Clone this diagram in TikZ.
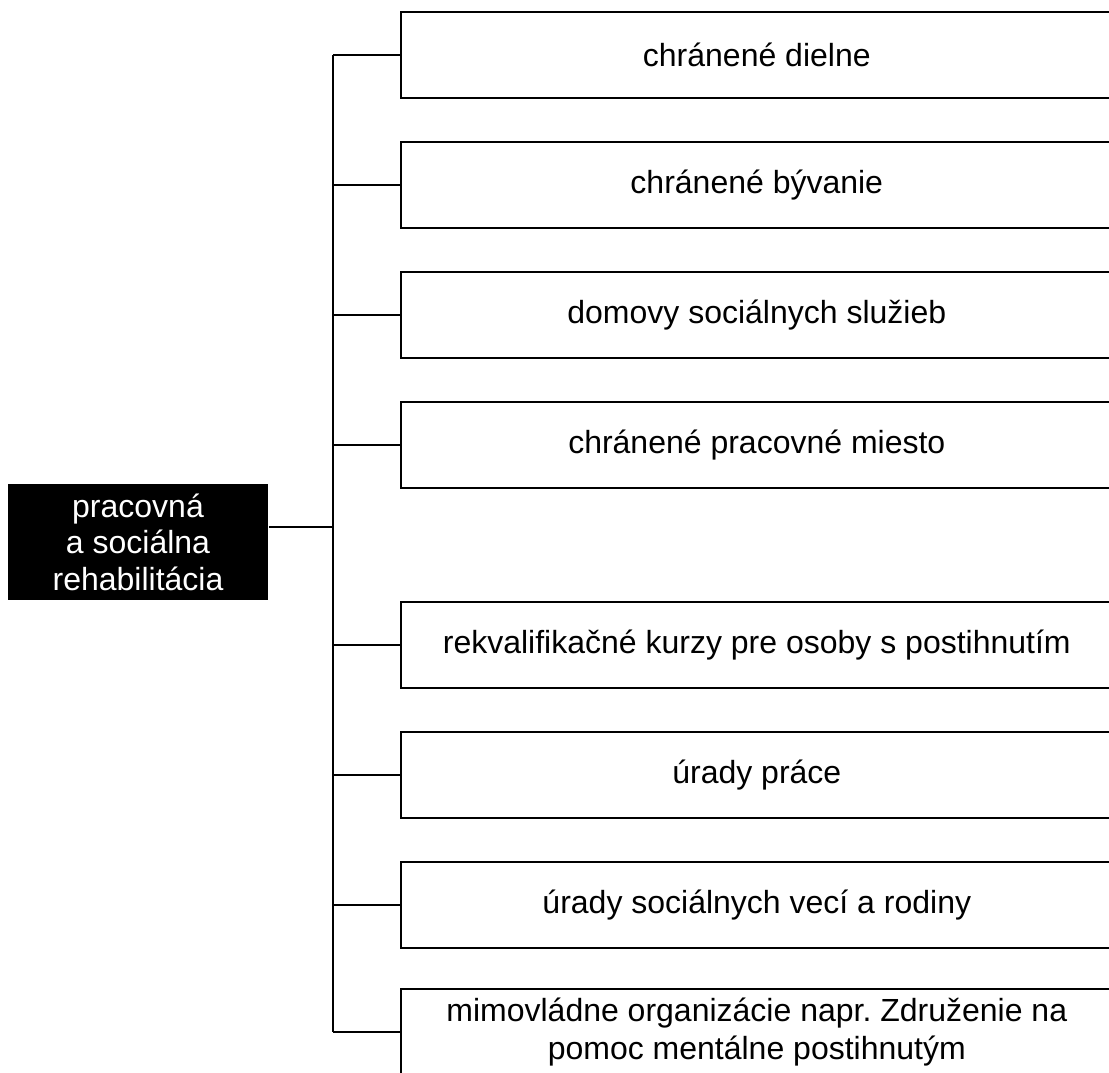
\documentclass[tikz,border=0pt]{standalone}
\usepackage{fontspec}
\setmainfont{Liberation Sans}
\frenchspacing
\begin{document}
\begin{tikzpicture}[x=1pt,y=-1pt,
  line width=1.6pt,
  item/.style={draw=black, line width=1.6pt, rectangle, minimum width=712pt,
    minimum height=86pt, anchor=north west, inner sep=0pt, align=center,
    font=\fontsize{32}{38}\selectfont},
  root/.style={fill=black, text=white, rectangle, minimum width=260pt,
    minimum height=116pt, inner sep=0pt, align=center,
    font=\fontsize{32}{36.5}\selectfont},
  link/.style={draw=black, line width=1.6pt}]
\useasboundingbox (0,0) rectangle (1109,1072);
\clip (0,0) rectangle (1109,1072);
\node[root] (r) at (138,542) {pracovná\\a sociálna\\rehabilitácia};
\node[item] (b1) at (400,11) {chránené dielne};
\node[item] (b2) at (400,141) {chránené bývanie};
\node[item] (b3) at (400,271) {domovy sociálnych služieb};
\node[item] (b4) at (400,401) {chránené pracovné miesto};
\node[item] (b5) at (400,601) {rekvalifikačné kurzy pre osoby s postihnutím};
\node[item] (b6) at (400,731) {úrady práce};
\node[item] (b7) at (400,861) {úrady sociálnych vecí a rodiny};
\node[item] (b8) at (400,988) {mimovládne organizácie napr. Združenie na\\pomoc mentálne postihnutým};
\coordinate (t) at (333,527);
\draw[link] (r.east |- t) -- (t);
\draw[link] (t |- b1.west) -- (t |- b8.west);
\foreach \b in {b1,b2,b3,b4,b5,b6,b7,b8}
  \draw[link] (t |- \b.west) -- (\b.west);
\end{tikzpicture}
\end{document}
